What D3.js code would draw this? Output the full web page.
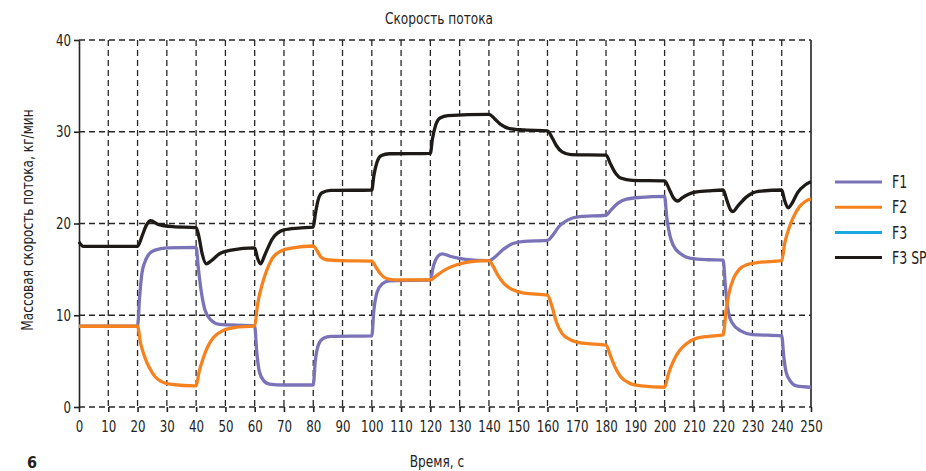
<!DOCTYPE html>
<html>
<head>
<meta charset="utf-8">
<script src="https://cdn.jsdelivr.net/npm/d3@7"></script>
<style>
  body { margin: 0; background: #fff; }
  text { font-family: "DejaVu Sans Condensed", "Liberation Sans Narrow", "Roboto", sans-serif; fill: #222; }
  .grid line { stroke: #262626; stroke-width: 1.3; stroke-dasharray: 6,4; }
  .axis path, .axis line { stroke: #222; stroke-width: 1.6; }
  .axis text { font-size: 16px; }
</style>
</head>
<body>
<script>
// series: [time, value]
var f1 = [[0,8.8],[20,8.8],[20.7,12],[21.5,14.6],[22.5,15.8],[24,16.7],[26,17.1],[30,17.35],[40,17.4],
  [40.8,15],[41.8,12.5],[43,10.6],[45,9.5],[48,9.0],[60,8.85],[60.7,6],[61.5,4],[63,2.9],[65,2.5],[70,2.4],
  [80,2.4],[80.7,5],[81.8,6.8],[83.5,7.5],[86,7.7],[100,7.75],[100.7,10.5],[101.8,12.5],[103.5,13.4],[106,13.75],
  [120,13.85],[121,15.3],[122.5,16.4],[124,16.7],[127,16.4],[132,16.1],[140,15.95],[141.5,16.2],[145,17.2],
  [148,17.8],[152,18.05],[160,18.15],[161.5,18.6],[164,19.7],[167,20.4],[171,20.75],[180,20.9],[181.5,21.4],
  [184,22.2],[187,22.65],[192,22.85],[200,22.95],[200.8,20.5],[201.8,18.7],[203,17.6],[205.5,16.7],[209,16.2],
  [215,16.05],[220,16.0],[220.8,13],[221.7,10.5],[223,9.2],[226,8.3],[230,7.9],[240,7.75],[240.7,5.5],
  [241.5,3.8],[243,2.8],[245,2.3],[250,2.15]];

var f2 = [[0,8.8],[20,8.8],[21,7.0],[22.5,5.4],[24,4.3],[26,3.3],[28,2.8],[31,2.5],[40,2.3],[41,3.8],[42.5,5.4],
  [44,6.6],[46,7.6],[49,8.3],[53,8.65],[60,8.85],[61,11.2],[62.5,13.3],[64,14.8],[66,16.2],[69,17.0],[73,17.35],
  [80,17.55],[81,17.2],[82.5,16.4],[84.5,16.05],[90,15.95],[100,15.9],[101.5,15.2],[103,14.5],[105,14.0],
  [108,13.85],[120,13.85],[122,14.3],[125,14.95],[129,15.5],[134,15.85],[140,15.95],[141.5,15.3],[143,14.4],
  [145,13.5],[148,12.8],[152,12.4],[160,12.2],[161.5,11.0],[163,9.3],[165,8.0],[168,7.3],[172,6.95],[180,6.75],
  [181.5,5.6],[183,4.4],[185,3.3],[188,2.6],[192,2.3],[200,2.15],[201.3,3.6],[203,5.0],[205,6.1],[207.5,6.9],
  [211,7.5],[215,7.7],[220,7.85],[221,10.5],[222,12.4],[223.5,14.0],[225.5,15.0],[228,15.5],[232,15.75],
  [240,15.95],[241,17.8],[242.5,19.5],[244,20.7],[246,21.8],[248,22.4],[250,22.7]];

var f3sp = [[0,18.0],[1.5,17.5],[20,17.5],[21.5,18.6],[23,19.8],[24.5,20.3],[27,19.9],[32,19.65],[40,19.55],
  [41,18.5],[42,16.8],[43.5,15.6],[45,15.9],[48,16.7],[52,17.1],[60,17.35],[61,16.2],[62,15.6],[63.5,16.6],
  [66,18.3],[70,19.3],[75,19.5],[80,19.6],[80.7,21],[81.7,22.6],[83,23.35],[86,23.6],[100,23.65],[100.7,25.2],
  [101.8,26.7],[103.3,27.4],[106,27.6],[120,27.65],[120.7,29.2],[121.8,30.7],[123.3,31.5],[126,31.75],
  [140,31.9],[142,31.4],[144,30.8],[147,30.35],[152,30.2],[160,30.1],[161.5,29.4],[163,28.5],[165,27.8],
  [168,27.5],[180,27.45],[181.5,26.5],[183,25.6],[185,24.95],[189,24.7],[200,24.65],[201.5,23.8],[203,22.8],
  [204.5,22.45],[206,22.8],[210,23.4],[215,23.55],[220,23.65],[221.3,22.5],[222.5,21.5],[223.3,21.3],[225,21.9],
  [228,22.9],[232,23.5],[240,23.65],[241,22.5],[242.2,21.7],[243.5,22.2],[245.5,23.4],[248,24.2],[250,24.55]];

var seriesNames = ["F1", "F2", "F3", "F3 SP"];
var seriesColors = ["#7b73b8", "#f5821f", "#1ba8e0", "#1d1a18"];
var xTicks = d3.range(0, 251, 10);
var yTicks = [0, 10, 20, 30, 40];

var margin = {top: 40, right: 115, bottom: 64, left: 79},
    width = 811 - margin.left,
    height = 407 - margin.top;

var squeeze = 0.82;   // narrow type like the original

var svg = d3.select("body").append("svg")
    .attr("width", 926)
    .attr("height", 471);

var g = svg.append("g")
    .attr("transform", "translate(" + margin.left + "," + margin.top + ")");

var xScale = d3.scaleLinear().domain([0, 250]).range([0, width]);
var yScale = d3.scaleLinear().domain([0, 40]).range([height, 0]);

// dashed grid
var grid = g.append("g").attr("class", "grid");
grid.selectAll(".vx").data(xTicks.slice(1, -1)).enter().append("line")
    .attr("x1", d => xScale(d)).attr("x2", d => xScale(d))
    .attr("y1", 0).attr("y2", height);
grid.selectAll(".hy").data(yTicks).enter().append("line")
    .attr("x1", 0).attr("x2", width)
    .attr("y1", d => yScale(d)).attr("y2", d => yScale(d));

// right border
g.append("line")
    .attr("x1", width).attr("x2", width).attr("y1", 0).attr("y2", height)
    .attr("stroke", "#222").attr("stroke-width", 1.6);

// axes
var xAxis = d3.axisBottom(xScale).tickValues(xTicks).tickSize(5).tickSizeOuter(0);
var yAxis = d3.axisLeft(yScale).tickValues(yTicks).tickSize(5).tickSizeOuter(0);

var gx = g.append("g")
    .attr("class", "axis")
    .attr("transform", "translate(0," + height + ")")
    .call(xAxis);
gx.select(".domain").remove();
gx.selectAll("text").attr("dy", "1.05em").attr("transform", "scale(" + squeeze + ",1)");

var gy = g.append("g")
    .attr("class", "axis")
    .call(yAxis);
gy.selectAll("text").attr("x", -8 / squeeze).attr("transform", "scale(" + squeeze + ",1)");

// lines
var lineGen = d3.line()
    .x(d => xScale(d[0]))
    .y(d => yScale(d[1]))
    .curve(d3.curveMonotoneX);

var plotSeries = [[f1, 0], [f2, 1], [f3sp, 3]];
plotSeries.forEach(function(s) {
    g.append("path")
        .attr("d", lineGen(s[0]))
        .attr("fill", "none")
        .attr("stroke", seriesColors[s[1]])
        .attr("stroke-width", 3.3)
        .attr("stroke-linejoin", "round");
});

// legend
var legend = svg.append("g").attr("transform", "translate(835,182)");
seriesNames.forEach(function(name, i) {
    legend.append("line")
        .attr("x1", 0).attr("x2", 47)
        .attr("y1", i * 25.2).attr("y2", i * 25.2)
        .attr("stroke", seriesColors[i]).attr("stroke-width", 3);
    legend.append("text")
        .attr("transform", "translate(57," + (i * 25.2) + ") scale(" + squeeze + ",1)")
        .attr("dy", "0.36em")
        .attr("font-size", "17px")
        .text(name);
});

// titles
function label(x, y, txt, size, rot) {
    return svg.append("text")
        .attr("transform", "translate(" + x + "," + y + ")" + (rot ? " rotate(-90)" : "") +
            (rot ? " scale(" + squeeze + ",1)" : " scale(" + squeeze + ",1)"))
        .attr("text-anchor", "middle")
        .attr("font-size", size + "px")
        .text(txt);
}

label(439, 24, "Скорость потока", 16.5, false);
label(437, 467, "Время, с", 16.5, false);
label(33, 220, "Массовая скорость потока, кг/мин", 16.5, true);

svg.append("text")
    .attr("x", 27).attr("y", 468)
    .attr("font-size", "16px")
    .attr("font-weight", "bold")
    .text("6");
</script>
</body>
</html>
